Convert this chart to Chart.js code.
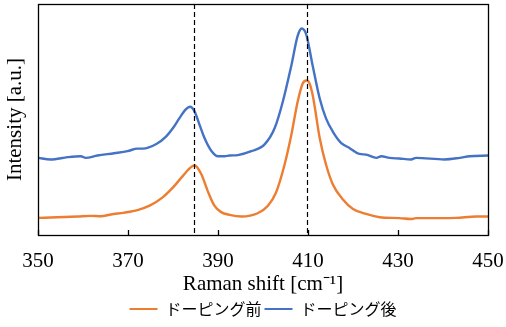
<!DOCTYPE html>
<html>
<head>
<meta charset="utf-8">
<script src="https://cdn.jsdelivr.net/npm/chart.js@4.4.1/dist/chart.umd.min.js"></script>
<style>
html,body{margin:0;padding:0;background:#fff;}
#wrap{width:506px;height:327px;position:relative;}
</style>
</head>
<body>
<div id="wrap"><canvas id="c" width="506" height="327"></canvas></div>
<script>
// Raman shift (cm-1) and intensity (a.u.)
const beforeShift = [350.0,354.3,358.8,361.7,364.0,366.2,369.2,372.1,374.8,377.7,380.0,382.2,384.0,384.8,386.3,387.7,389.2,390.7,392.6,395.2,398.8,401.1,402.9,404.8,406.3,407.7,408.8,409.6,410.3,411.1,412.6,414.0,415.5,417.7,420.0,422.9,425.9,430.3,432.9,434.0,439.2,442.9,447.4,450.0];
const beforeIntensity = [7.4,7.7,8.0,8.3,8.1,8.9,9.7,10.8,12.7,16.3,20.6,25.6,29.4,30.1,26.3,19.1,12.7,9.9,8.7,8.0,9.4,12.7,18.4,30.5,43.4,57.7,65.5,66.9,65.8,60.0,42.0,30.5,22.0,15.5,11.3,9.1,7.7,7.3,6.9,7.3,7.3,7.4,8.0,8.0];

const afterShift = [350.0,352.8,356.6,359.5,360.6,363.2,366.9,369.9,372.1,373.3,376.3,378.5,380.0,381.4,382.9,383.8,384.8,385.9,387.0,388.5,390.0,391.4,392.6,394.4,397.4,400.3,402.6,404.4,406.3,407.7,408.6,409.6,411.1,412.6,414.0,415.5,417.4,419.2,421.4,422.9,425.2,426.3,428.1,430.3,432.9,434.0,440.3,443.7,445.9,450.0];
const afterIntensity = [33.4,32.7,33.7,34.1,33.4,34.4,35.4,36.3,37.4,37.4,39.4,42.7,46.3,50.5,54.5,55.5,53.4,47.7,42.0,36.5,34.1,34.1,34.4,34.6,36.3,39.1,46.3,57.7,73.4,86.2,89.4,86.9,72.7,59.1,50.5,44.8,39.8,37.7,35.1,34.8,33.4,34.1,33.4,33.1,32.7,33.4,32.7,33.4,34.1,34.4];

const xTicks = [350,370,390,410,430,450];
const markerShifts = [384.6, 409.8];
const seriesNames = ['ドーピング前','ドーピング後'];

const toXY = (xs, ys) => xs.map((x,i)=>({x:x, y:ys[i]}));

const framePlugin = {
  id:'frame',
  afterDatasetsDraw(chart){
    const {ctx, chartArea:a, scales:{x}} = chart;
    ctx.save();
    ctx.strokeStyle = '#000';
    ctx.lineWidth = 1.2;
    ctx.setLineDash([5,3]);
    markerShifts.forEach(v=>{
      const px = Math.round(x.getPixelForValue(v))+0.5;
      ctx.beginPath(); ctx.moveTo(px,a.top); ctx.lineTo(px,a.bottom); ctx.stroke();
    });
    ctx.setLineDash([]);
    ctx.lineWidth = 1.3;
    ctx.strokeRect(Math.round(a.left)+0.5, Math.round(a.top)+0.5, Math.round(a.right-a.left), Math.round(a.bottom-a.top));
    xTicks.forEach(v=>{
      const px = Math.round(x.getPixelForValue(v))+0.5;
      ctx.beginPath(); ctx.moveTo(px,a.bottom); ctx.lineTo(px,a.bottom-5); ctx.stroke();
    });
    ctx.restore();
  }
};

new Chart(document.getElementById('c'), {
  type:'line',
  data:{
    datasets:[
      {label:seriesNames[0], data:toXY(beforeShift,beforeIntensity), borderColor:'#ED7D31', backgroundColor:'#ED7D31', borderWidth:2.4, pointRadius:0, cubicInterpolationMode:'monotone', fill:false},
      {label:seriesNames[1], data:toXY(afterShift,afterIntensity), borderColor:'#4472C4', backgroundColor:'#4472C4', borderWidth:2.4, pointRadius:0, cubicInterpolationMode:'monotone', fill:false}
    ]
  },
  options:{
    responsive:false,
    animation:false,
    layout:{padding:{left:0,right:18,top:4,bottom:0}},
    plugins:{
      tooltip:{enabled:false},
      legend:{
        position:'bottom',
        fullSize:false,
        labels:{
          boxWidth:28, boxHeight:2,
          color:'#000',
          padding:3,
          font:{family:'"Noto Sans CJK JP"', size:16},
          generateLabels(chart){
            const items = Chart.defaults.plugins.legend.labels.generateLabels(chart);
            items.forEach(it=>{ it.lineWidth=0; it.fillStyle=it.strokeStyle; });
            return items;
          }
        }
      }
    },
    scales:{
      x:{
        type:'linear', min:350, max:450,
        afterBuildTicks(s){ s.ticks = xTicks.map(v=>({value:v})); },
        grid:{display:true, drawOnChartArea:false, drawTicks:false},
        border:{display:false},
        ticks:{padding:14, color:'#000', font:{family:'"Liberation Serif"', size:21}, maxRotation:0},
        title:{display:true, text:'Raman shift [cm⁻¹]', color:'#000', font:{family:'"Liberation Serif"', size:21}, padding:{top:0,bottom:1}},
        afterFit(s){ s.height = 63; s.paddingLeft = 0; s.paddingRight = 0; }
      },
      y:{
        type:'linear', min:0, max:100,
        grid:{display:false},
        border:{display:false},
        ticks:{display:false},
        title:{display:true, text:'Intensity [a.u.]', color:'#000', font:{family:'"Liberation Serif"', size:21}, padding:{top:3,bottom:0}},
        afterFit(s){ s.width = 38; }
      }
    }
  },
  plugins:[framePlugin]
});
</script>
</body>
</html>
